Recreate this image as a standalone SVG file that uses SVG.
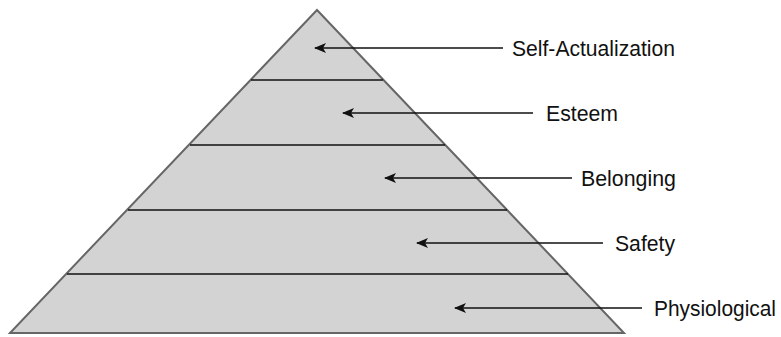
<svg xmlns="http://www.w3.org/2000/svg" width="781" height="337" viewBox="0 0 781 337">
  <style>
    .tier { stroke: #111; stroke-width: 1.3; fill: none; }
    .conn { stroke: #111; stroke-width: 1.3; fill: none; marker-end: url(#ah); }
    .lbl { font-family: "Liberation Sans", Arial, Helvetica, sans-serif; font-size: 22px; fill: #111; }
  </style>
  <defs>
    <marker id="ah" markerUnits="userSpaceOnUse" viewBox="0 0 12 10" refX="11" refY="5" markerWidth="12" markerHeight="10" orient="auto">
      <path d="M0,0 L12,5 L0,10 L3,5 Z" fill="#111"/>
    </marker>
  </defs>
  <rect width="781" height="337" fill="#ffffff"/>
  <g id="pyramid">
    <polygon points="317,10 10,333 624,333" fill="#d3d3d3" stroke="#666" stroke-width="2"/>
    <line class="tier" x1="251" y1="80" x2="383" y2="80"/>
    <line class="tier" x1="190" y1="145" x2="445" y2="145"/>
    <line class="tier" x1="128" y1="210" x2="507" y2="210"/>
    <line class="tier" x1="67" y1="274" x2="568" y2="274"/>
  </g>
  <g id="connectors">
    <line class="conn" x1="503" y1="48" x2="315" y2="48"/>
    <line class="conn" x1="533" y1="113" x2="343" y2="113"/>
    <line class="conn" x1="572" y1="178" x2="385" y2="178"/>
    <line class="conn" x1="603" y1="243" x2="417" y2="243"/>
    <line class="conn" x1="642" y1="308" x2="455" y2="308"/>
  </g>
  <g id="self-actualization"><text class="lbl" x="512" y="56" textLength="163" lengthAdjust="spacingAndGlyphs">Self-Actualization</text></g>
  <g id="esteem"><text class="lbl" x="546" y="121" textLength="72" lengthAdjust="spacingAndGlyphs">Esteem</text></g>
  <g id="belonging"><text class="lbl" x="581" y="186" textLength="95" lengthAdjust="spacingAndGlyphs">Belonging</text></g>
  <g id="safety"><text class="lbl" x="615" y="251" textLength="60" lengthAdjust="spacingAndGlyphs">Safety</text></g>
  <g id="physiological"><text class="lbl" x="654" y="316" textLength="122" lengthAdjust="spacingAndGlyphs">Physiological</text></g>
</svg>
